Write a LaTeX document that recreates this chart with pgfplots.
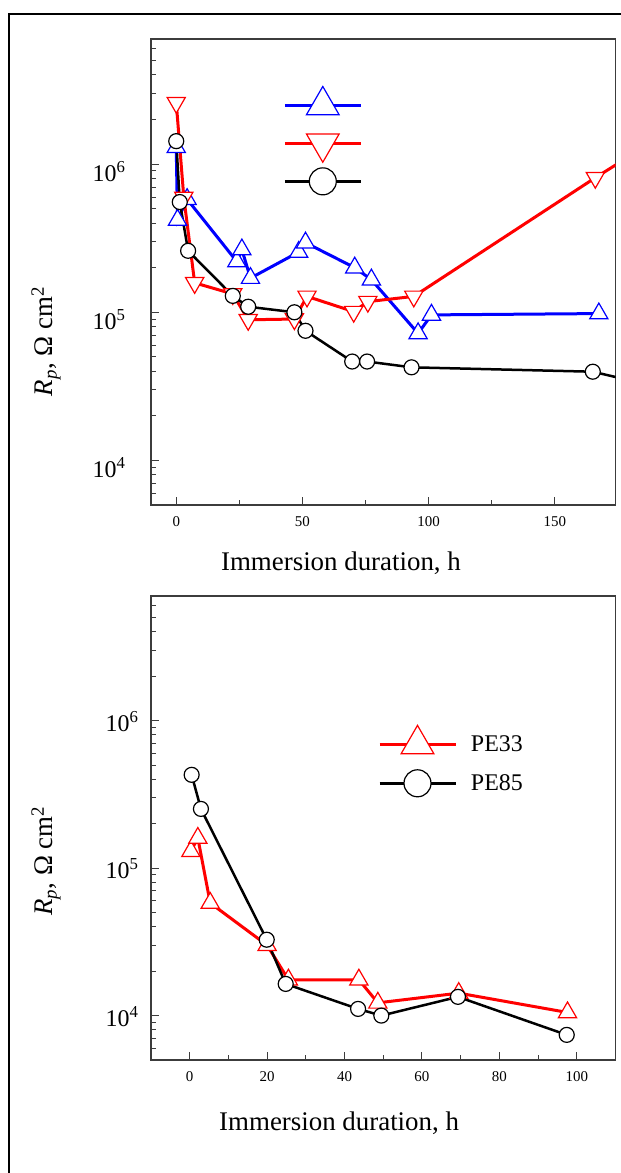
\documentclass[border=0pt]{standalone}
\usepackage{fontspec}
\setmainfont{Liberation Serif}
\usepackage{pgfplots}
\pgfplotsset{compat=1.18}
\definecolor{cblue}{RGB}{0,0,255}
\definecolor{cred}{RGB}{255,0,0}
\definecolor{axgray}{RGB}{60,60,60}

\pgfplotsset{
 sb/.style={cblue, line width=3bp, mark=triangle*, mark size=10.5bp, mark options={solid, line width=1.2bp, fill=white}},
 sr/.style={cred, line width=3bp, mark=triangle*, mark size=10.5bp, mark options={solid, line width=1.2bp, fill=white, rotate=180}},
 sr2/.style={cred, line width=3bp, mark=triangle*, mark size=10.5bp, mark options={solid, line width=1.2bp, fill=white}},
 sk/.style={black, line width=2.5bp, mark=*, mark size=7.5bp, mark options={solid, line width=1.2bp, fill=white}},
}

\begin{document}
\begin{tikzpicture}
\useasboundingbox (0,0) rectangle (621bp,1173bp);
\draw[line width=1.3bp] (640bp,1159bp) -- (9bp,1159bp) -- (9bp,-10bp);
\coordinate (A1) at (151bp,668bp);
\coordinate (A2) at (151bp,113bp);

\begin{axis}[at={(A1)}, anchor=south west,
  scale only axis, width=464.5bp, height=466bp,
  ymode=log, ymin=5e3, ymax=7e6,
  axis line style={line width=1.1bp, axgray},
  tick style={line width=1bp, axgray},
  xtick pos=left, ytick pos=left, tick align=inside,
  major tick length=8bp, minor tick length=5bp,
  ytick={1e4,1e5,1e6},
  yticklabels={10\textsuperscript{4},10\textsuperscript{5},10\textsuperscript{6}},
  minor ytick={6e3,7e3,8e3,9e3,2e4,3e4,4e4,5e4,6e4,7e4,8e4,9e4,2e5,3e5,4e5,5e5,6e5,7e5,8e5,9e5,2e6,3e6,4e6,5e6,6e6,7e6},
  /pgf/number format/assume math mode=true,
  xticklabel style={font=\fontsize{15}{15}\selectfont, yshift=-8.5bp},
  xlabel={Immersion duration, h},
  ylabel={\textit{R}\textsubscript{\textit{p}}, Ω cm\textsuperscript{2}},
  label style={font=\fontsize{27}{27}\selectfont},
  legend image code/.code={
    \path[draw=none, fill=none] (0bp,-20bp) rectangle (76bp,20bp);
    \draw[#1] (0bp,0bp) -- (76bp,0bp);
    \draw[#1, every mark/.append style={scale=1.8}] plot coordinates {(38bp,0bp)};
  },
  legend style={draw=none, fill=none, inner sep=0pt, outer sep=0pt, column sep=12bp,
    font=\fontsize{24}{24}\selectfont},
  legend cell align=left,
  xmin=-10, xmax=174, xtick={0,50,100,150}, minor xtick={25,75,125},
  yticklabel style={font=\fontsize{24}{24}\selectfont, xshift=-22bp, yshift=-7bp},
  xlabel style={at={(axis description cs:0.409,-0.1245)}, anchor=center},
  ylabel style={at={(axis description cs:-0.226,0.351)}, anchor=center},
  legend style={at={(axis description cs:0.2848,0.9005)}, anchor=north west, row sep=-2bp},
]
\addplot[sb] coordinates {(0,1.3e6) (0.5,4.2e5) (4.3,5.8e5) (24,2.2e5) (26,2.65e5) (29.4,1.7e5) (48.5,2.55e5) (51.2,2.95e5) (70.7,2.0e5) (77.3,1.66e5) (95.8,7.2e4) (101.1,9.6e4) (167.4,9.8e4)};
\addlegendentry{}
\addplot[sr] coordinates {(0,2.6e6) (3,5.95e5) (7.3,1.58e5) (22.4,1.33e5) (28.5,8.9e4) (46.8,9.0e4) (51.8,1.28e5) (70.3,1.01e5) (75.9,1.18e5) (94.1,1.28e5) (166,8.1e5) (190,1.46e6)};
\addlegendentry{}
\addplot[sk] coordinates {(0,1.43e6) (1.4,5.55e5) (4.7,2.6e5) (22.4,1.29e5) (28.5,1.09e5) (46.8,1.0e5) (51.2,7.5e4) (69.7,4.65e4) (75.6,4.65e4) (93.2,4.25e4) (165,3.97e4) (190,3.16e4)};
\addlegendentry{}
\end{axis}

\begin{axis}[at={(A2)}, anchor=south west,
  scale only axis, width=464.5bp, height=464bp,
  ymode=log, ymin=5e3, ymax=7e6,
  axis line style={line width=1.1bp, axgray},
  tick style={line width=1bp, axgray},
  xtick pos=left, ytick pos=left, tick align=inside,
  major tick length=8bp, minor tick length=5bp,
  ytick={1e4,1e5,1e6},
  yticklabels={10\textsuperscript{4},10\textsuperscript{5},10\textsuperscript{6}},
  minor ytick={6e3,7e3,8e3,9e3,2e4,3e4,4e4,5e4,6e4,7e4,8e4,9e4,2e5,3e5,4e5,5e5,6e5,7e5,8e5,9e5,2e6,3e6,4e6,5e6,6e6,7e6},
  /pgf/number format/assume math mode=true,
  xticklabel style={font=\fontsize{15}{15}\selectfont, yshift=-8.5bp},
  xlabel={Immersion duration, h},
  ylabel={\textit{R}\textsubscript{\textit{p}}, Ω cm\textsuperscript{2}},
  label style={font=\fontsize{27}{27}\selectfont},
  legend image code/.code={
    \path[draw=none, fill=none] (0bp,-20bp) rectangle (76bp,20bp);
    \draw[#1] (0bp,0bp) -- (76bp,0bp);
    \draw[#1, every mark/.append style={scale=1.8}] plot coordinates {(38bp,0bp)};
  },
  legend style={draw=none, fill=none, inner sep=0pt, outer sep=0pt, column sep=12bp,
    font=\fontsize{24}{24}\selectfont},
  legend cell align=left,
  xmin=-10, xmax=110, xtick={0,20,40,60,80,100}, minor xtick={10,30,50,70,90},
  yticklabel style={font=\fontsize{24}{24}\selectfont, xshift=-9bp, yshift=-1bp},
  xlabel style={at={(axis description cs:0.405,-0.136)}, anchor=center},
  ylabel style={at={(axis description cs:-0.226,0.429)}, anchor=center},
  legend style={at={(axis description cs:0.4887,0.7235)}, anchor=north west, row sep=-1bp},
]
\addplot[sr2] coordinates {(0.3,1.3e5) (2.1,1.6e5) (5.3,5.8e4) (20,3.0e4) (25.5,1.75e4) (43.7,1.75e4) (48.6,1.22e4) (69.5,1.42e4) (97.6,1.05e4)};
\addlegendentry{PE33}
\addplot[sk] coordinates {(0.5,4.29e5) (2.9,2.52e5) (19.9,3.27e4) (24.8,1.64e4) (43.5,1.11e4) (49.5,1.0e4) (69.3,1.34e4) (97.4,7.4e3)};
\addlegendentry{PE85}
\end{axis}
\end{tikzpicture}
\end{document}
